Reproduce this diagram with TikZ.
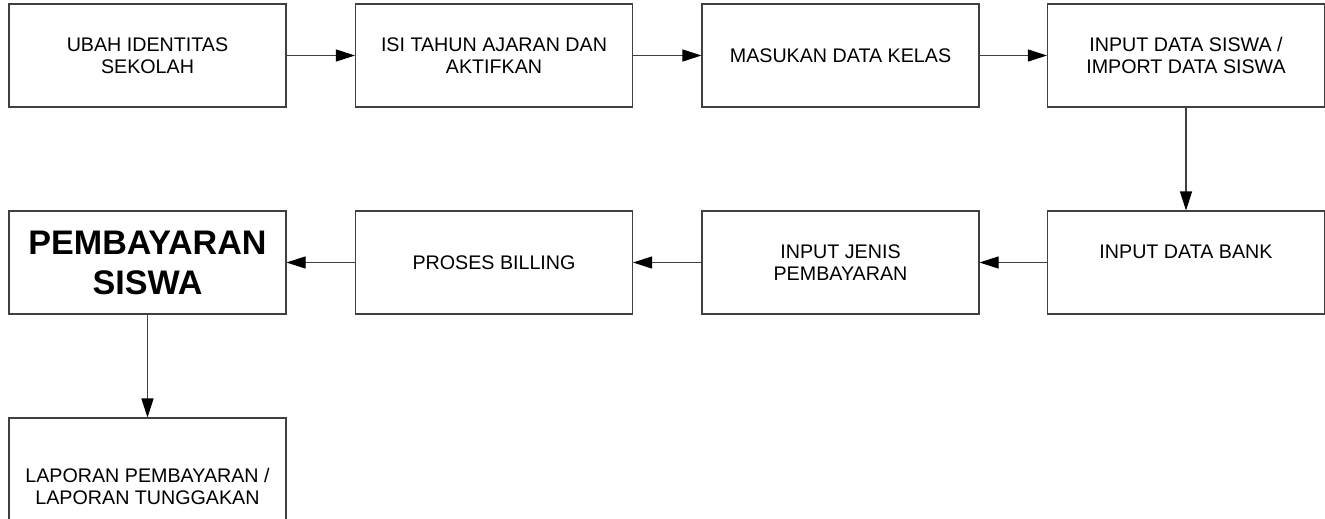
\documentclass[tikz,border=0pt]{standalone}
\usepackage{fontspec}
\setmainfont{Liberation Sans}
\usetikzlibrary{arrows.meta}

\tikzset{
  flowbox/.style={draw=black!75, line width=0.6pt, rectangle, minimum width=5.54cm,
    minimum height=2.06cm, inner sep=0pt, align=center,
    font=\fontsize{11.2}{12.5}\selectfont},
  flowarrow/.style={draw=black!75, line width=0.6pt,
    -{Triangle[length=0.38cm, width=0.24cm, black]}}
}

\begin{document}
\begin{tikzpicture}

    \useasboundingbox (0, 0) rectangle (26.5, -10.36);

    % Setup steps (top row)
    \node[flowbox] (identitas) at (2.95, -1.11) {UBAH IDENTITAS\\SEKOLAH};
    \node[flowbox] (tahun) at (9.88, -1.11) {ISI TAHUN AJARAN DAN\\AKTIFKAN};
    \node[flowbox] (kelas) at (16.81, -1.11) {MASUKAN DATA KELAS};
    \node[flowbox] (siswa) at (23.72, -1.11) {INPUT DATA SISWA /\\IMPORT DATA SISWA};

    % Payment steps (middle row, right to left)
    \node[flowbox] (bank) at (23.72, -5.25) {INPUT DATA BANK\\\mbox{}};
    \node[flowbox] (jenis) at (16.81, -5.25) {INPUT JENIS\\PEMBAYARAN};
    \node[flowbox] (billing) at (9.88, -5.25) {PROSES BILLING};
    \node[flowbox, font=\bfseries\fontsize{19.4}{22.8}\selectfont] (bayar) at (2.95, -5.25) {PEMBAYARAN\\SISWA};

    % Reports
    \node[flowbox, minimum height=2.72cm] (laporan) at (2.95, -9.72) {LAPORAN PEMBAYARAN /\\LAPORAN TUNGGAKAN};

    % Connectors
    \draw[flowarrow] (identitas) -- (tahun);
    \draw[flowarrow] (tahun) -- (kelas);
    \draw[flowarrow] (kelas) -- (siswa);
    \draw[flowarrow] (siswa) -- (bank);
    \draw[flowarrow] (bank) -- (jenis);
    \draw[flowarrow] (jenis) -- (billing);
    \draw[flowarrow] (billing) -- (bayar);
    \draw[flowarrow] (bayar) -- (laporan);

\end{tikzpicture}
\end{document}
